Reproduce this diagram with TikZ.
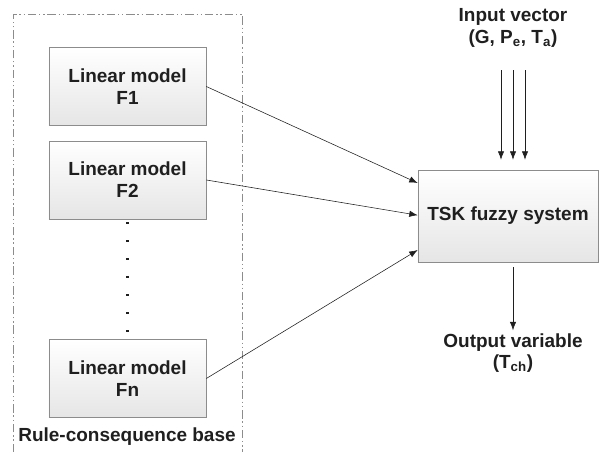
\documentclass[tikz,border=0pt]{standalone}
\usepackage{fontspec}
\setmainfont{Liberation Sans}
\usetikzlibrary{arrows.meta}
\definecolor{boxgray}{gray}{0.90}
\definecolor{linegray}{gray}{0.55}
\definecolor{inkgray}{gray}{0.12}

\begin{document}
\begin{tikzpicture}[x=0.025cm,y=-0.025cm,
  font=\fontsize{13.5}{15.5}\selectfont\bfseries,text=inkgray,
  model/.style={draw=linegray,top color=white,bottom color=boxgray,
    minimum width=3.925cm,minimum height=1.95cm,align=center,inner sep=0pt},
  arr/.style={draw=inkgray,-{Latex[length=6pt,width=4.5pt]}}]
  \useasboundingbox (0,0) rectangle (600,452);
  % rule-consequence frame
  \draw[linegray,dash pattern=on 6pt off 2pt on 1pt off 2pt on 1pt off 2pt]
    (13,452) -- (13,14) -- (242,14) -- (242,452);
  \node (base) at (127,437) {Rule-consequence base};
  % linear models
  \node[model] (f1) at (127.5,86.5)  {Linear model\\F1};
  \node[model] (f2) at (127.5,180)   {Linear model\\F2};
  \node[model] (fn) at (127.5,378.5) {Linear model\\Fn};
  \draw[inkgray,line width=1.6pt,dash pattern=on 1.6pt off 11.2pt,shorten <=2pt] (f2.south) -- (fn.north);
  % fuzzy system
  \node[model,minimum width=4.5cm,minimum height=2.3cm] (tsk) at (508,216) {TSK fuzzy system};
  \node[align=center] (inp) at (513,28) {Input vector\\(G, P\textsubscript{e}, T\textsubscript{a})};
  \node[align=center] (out) at (513,353) {Output variable\\(T\textsubscript{ch})};
  \foreach \dx in {-12,0,12}
    \draw[arr,shorten <=0.45cm,shorten >=0.25cm]
      ([xshift=\dx*0.025cm]inp.south) -- ([xshift=\dx*0.025cm]inp.south |- tsk.north);
  \draw[arr,shorten <=0.12cm,shorten >=-0.05cm] (tsk.south -| out.north) -- (out.north);
  \draw[arr] (f1.east) -- ([yshift=0.825cm]tsk.west);
  \draw[arr] (f2.east) -- ([yshift=0.02cm]tsk.west);
  \draw[arr] (fn.east) -- ([yshift=-0.85cm]tsk.west);
\end{tikzpicture}
\end{document}
